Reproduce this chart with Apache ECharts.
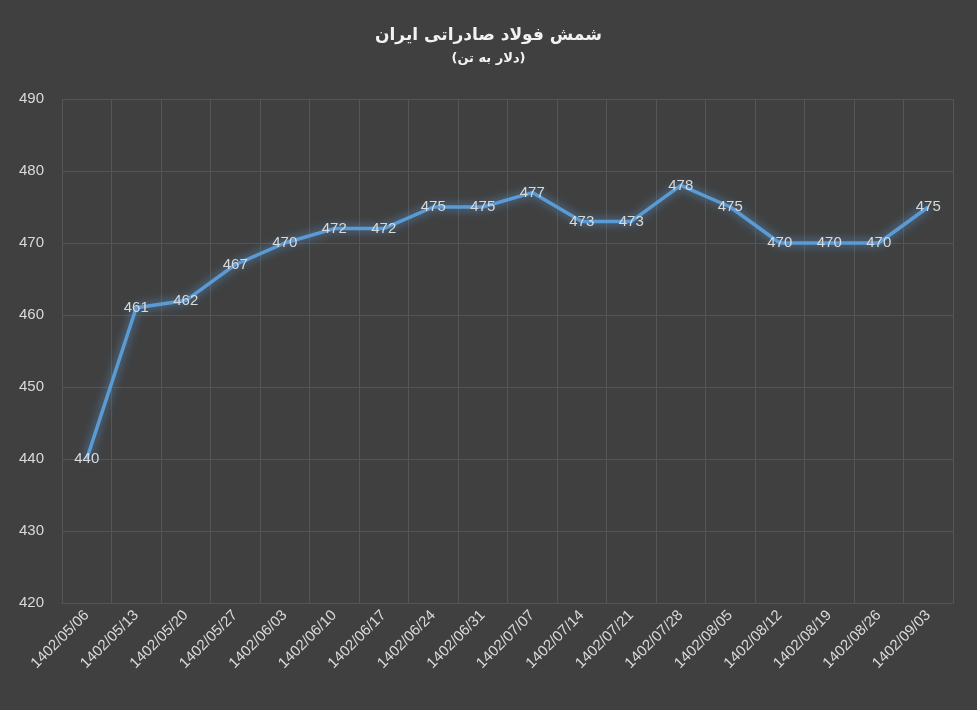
<!DOCTYPE html>
<html><head><meta charset="utf-8">
<script src="https://cdn.jsdelivr.net/npm/echarts@6/dist/echarts.min.js"></script>
<style>html,body{margin:0;padding:0;background:#404040}#c{width:977px;height:710px}</style>
</head><body><div id="c"></div>
<script>
const categories = ["1402/05/06","1402/05/13","1402/05/20","1402/05/27","1402/06/03","1402/06/10","1402/06/17","1402/06/24","1402/06/31","1402/07/07","1402/07/14","1402/07/21","1402/07/28","1402/08/05","1402/08/12","1402/08/19","1402/08/26","1402/09/03"];
const prices = [440,461,462,467,470,472,472,475,475,477,473,473,478,475,470,470,470,475];
const titleText = "شمش فولاد صادراتی ایران";
const subtitleText = "(دلار به تن)";
const chart = echarts.init(document.getElementById('c'));
chart.setOption({
  backgroundColor: '#404040',
  title: {text: titleText, subtext: subtitleText, left: 'center', top: 22, itemGap: 8,
    textStyle: {color: '#f2f2f2', fontSize: 17, fontWeight: 'bold', fontFamily: 'DejaVu Sans'},
    subtextStyle: {color: '#f2f2f2', fontSize: 13, fontWeight: 'bold', fontFamily: 'DejaVu Sans'}},
  grid: {left: 62, right: 24, top: 99, bottom: 107},
  xAxis: {type: 'category', data: categories, boundaryGap: true,
    axisLine: {lineStyle: {color: '#555555'}}, axisTick: {show: false},
    splitLine: {show: true, lineStyle: {color: '#555555'}},
    axisLabel: {rotate: 45, color: '#d9d9d9', fontSize: 15, interval: 0, margin: 10, fontFamily: 'Liberation Sans'}},
  yAxis: {type: 'value', min: 420, max: 490, interval: 10,
    axisLine: {show: false}, axisTick: {show: false},
    splitLine: {lineStyle: {color: '#555555'}},
    axisLabel: {color: '#d9d9d9', fontSize: 15, margin: 18, fontFamily: 'Liberation Sans'}},
  series: [{type: 'line', data: prices, symbol: 'circle', symbolSize: 1, showSymbol: true,
    itemStyle: {color: '#5b9bd5'},
    lineStyle: {color: '#5b9bd5', width: 3.5, shadowColor: 'rgba(91,155,213,0.9)', shadowBlur: 10},
    label: {show: true, position: 'inside', color: '#d9d9d9', fontSize: 15, fontFamily: 'Liberation Sans'}}]
});
</script></body></html>
